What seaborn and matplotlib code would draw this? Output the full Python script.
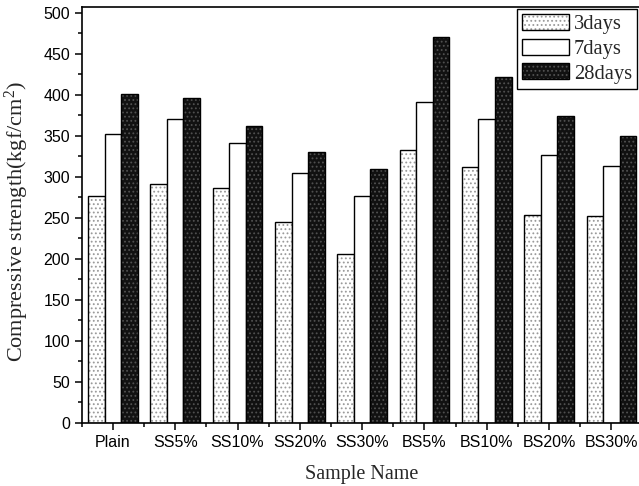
import matplotlib
matplotlib.use("Agg")
import matplotlib.pyplot as plt
from matplotlib.colors import to_rgba
from matplotlib.ticker import MultipleLocator, FixedLocator
import seaborn as sns
import pandas as pd
import numpy as np

# Compressive strength of mortar samples at three curing ages
samples = ["Plain", "SS5%", "SS10%", "SS20%", "SS30%", "BS5%", "BS10%", "BS20%", "BS30%"]
ages = ["3days", "7days", "28days"]
strength_3d = [276, 291, 286, 245, 206, 332, 312, 253, 252]
strength_7d = [352, 370, 341, 305, 276, 391, 370, 327, 313]
strength_28d = [401, 396, 362, 330, 309, 470, 422, 374, 350]

df = pd.DataFrame({
    "Sample": samples * 3,
    "Age": np.repeat(ages, len(samples)),
    "Strength": strength_3d + strength_7d + strength_28d,
})

sns.set_theme(style="ticks")
plt.rcParams["font.family"] = ["Liberation Sans", "DejaVu Sans"]
plt.rcParams["mathtext.fontset"] = "custom"
plt.rcParams["mathtext.rm"] = "Liberation Serif"
plt.rcParams["mathtext.it"] = "Liberation Serif:italic"
plt.rcParams["hatch.linewidth"] = 0.8

W, H = 639, 486
fig = plt.figure(figsize=(W / 100, H / 100), dpi=100)
ax = fig.add_axes([81.7 / W, (H - 422.7) / H, (642.6 - 81.7) / W, (422.7 - 7) / H])

fills = {"3days": "white", "7days": "white", "28days": "#111111"}
sns.barplot(data=df, x="Sample", y="Strength", hue="Age", hue_order=ages,
            order=samples, palette=fills, width=0.8, ax=ax,
            edgecolor="black", linewidth=1.0, saturation=1)

styles = {
    "3days": dict(hatch="....", hcolor="#9a9a9a"),
    "7days": dict(hatch=None, hcolor="black"),
    "28days": dict(hatch="....", hcolor="#505050"),
}

for container, age in zip(ax.containers, ages):
    st = styles[age]
    for bar in container:
        if st["hatch"]:
            bar.set_hatch(st["hatch"])
            bar._hatch_color = to_rgba(st["hcolor"])

ax.set_xlim(-0.5, 8.5)
ax.set_ylim(0, 507)
ax.yaxis.set_major_locator(MultipleLocator(50))
ax.yaxis.set_minor_locator(MultipleLocator(25))
ax.xaxis.set_minor_locator(FixedLocator(np.arange(-0.5, 9, 1.0)))
ax.tick_params(axis="both", which="major", length=5, width=1.1, direction="out",
               labelsize=11.5, color="black", labelcolor="black")
ax.tick_params(axis="both", which="minor", length=3, width=1.1, direction="out", color="black")
for s in ["left", "bottom", "top", "right"]:
    ax.spines[s].set_visible(True)
    ax.spines[s].set_linewidth(1.2)
    ax.spines[s].set_color("black")

ax.set_xlabel("Sample Name", family=["Liberation Serif"], fontsize=14.5, labelpad=11)
ax.set_ylabel(r"Compressive strength(kgf/cm$^{2}$)", family=["Liberation Serif"],
              fontsize=16)
ax.yaxis.set_label_coords(-0.09, 0.484)

handles, labels = ax.get_legend_handles_labels()
for h, age in zip(handles, labels):
    st = styles[age]
    if st["hatch"]:
        h.set_hatch(st["hatch"])
        h._hatch_color = to_rgba(st["hcolor"])
leg = ax.legend(handles, labels, loc="upper right",
                bbox_to_anchor=(637 / W, 1 - 9.3 / H), bbox_transform=fig.transFigure,
                borderaxespad=0, frameon=True, fancybox=False, framealpha=1,
                edgecolor="black", prop={"family": "Liberation Serif", "size": 14.8},
                handlelength=2.25, handleheight=0.8, labelspacing=0.22,
                handletextpad=0.25, borderpad=0.25, title=None)
leg.get_frame().set_linewidth(1.0)

fig.savefig("out.png", dpi=100)
